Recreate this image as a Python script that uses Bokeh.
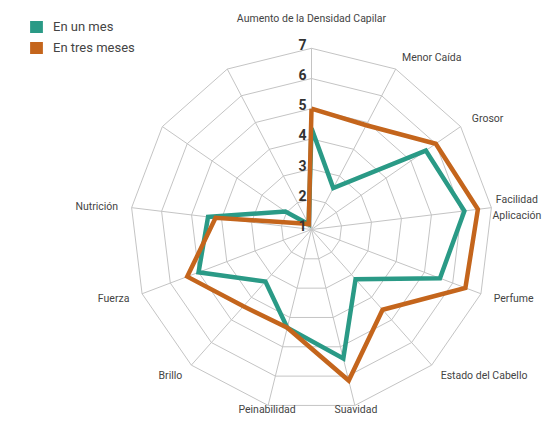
import numpy as np
from bokeh.plotting import figure
from bokeh.models import Range1d, Legend, LegendItem, ColumnDataSource
from bokeh.core.properties import value
from bokeh.embed import file_html
from bokeh.resources import INLINE

# ---- data ----
categories = ["Aumento de la Densidad Capilar", "Menor Caída", "Grosor", "Facilidad\nAplicación",
              "Perfume", "Estado del Cabello", "Suavidad", "Peinabilidad", "Brillo", "Fuerza",
              "Nutrición", "", ""]
un_mes = [4.35, 2.55, 5.6, 6.1, 5.55, 3.2, 5.4, 4.35, 3.3, 5.0, 4.45, 2.05, 1.2]
tres_meses = [5.0, 4.9, 6.0, 6.55, 6.45, 4.55, 6.15, 4.35, 4.4, 5.4, 4.2, 1.35, 1.2]
levels = [1, 2, 3, 4, 5, 6, 7]
series_names = ["En un mes", "En tres meses"]

# ---- styling ----
GREEN = "#2a9a86"
ORANGE = "#c4651c"
GRID = "#c4c4c4"
FONT = "Roboto"
W, H = 544, 416
PX = 30.2          # pixels per unit
CX, CY = 311, 229  # centre in figure pixels

n = len(categories)
theta = 2 * np.pi * np.arange(n) / n
vmin = levels[0]


def xy(vals):
    r = np.asarray(vals, dtype=float) - vmin
    x = r * np.sin(theta)
    y = r * np.cos(theta)
    return np.append(x, x[0]), np.append(y, y[0])


p = figure(width=W, height=H, output_backend="svg", toolbar_location=None,
           x_range=Range1d(-CX / PX, (W - CX) / PX),
           y_range=Range1d(-(H - CY) / PX, CY / PX),
           min_border=0, outline_line_color=None)
p.axis.visible = False
p.grid.visible = False

# rings
rmax = levels[-1] - vmin
for lv in levels[1:]:
    gx, gy = xy([lv] * n)
    p.line(gx, gy, line_color=GRID, line_width=1)
# spokes
p.multi_line([[0, rmax * np.sin(t)] for t in theta], [[0, rmax * np.cos(t)] for t in theta],
             line_color=GRID, line_width=1)

# series
gx, gy = xy(un_mes)
p.line(gx, gy, line_color=GREEN, line_width=4.5, line_join="miter")
ox, oy = xy(tres_meses)
p.line(ox, oy, line_color=ORANGE, line_width=4.5, line_join="miter")

# radial tick labels
p.text(x=[0] * len(levels), y=[lv - vmin for lv in levels], text=[str(lv) for lv in levels],
       x_offset=-9, y_offset=-4, text_align="center", text_baseline="middle",
       text_font=value(FONT), text_font_size="14px", text_font_style="bold",
       text_color="#333333")

# category labels
lx, ly, la, lt, lyo = [], [], [], [], []
for t, c in zip(theta, categories):
    deg = np.degrees(t)
    lines = c.split("\n")
    if deg < 1:
        rl, al = rmax + 1.0, "center"
    elif abs(deg - 180) < 20:
        rl, al = rmax + 0.15, "center"
    elif len(lines) > 1:
        rl, al = rmax + 0.85, "center"
    elif deg < 180:
        rl, al = rmax + 0.45, "left"
    else:
        rl, al = rmax + 0.45, "right"
    k = len(lines)
    for i, ln in enumerate(lines):
        lx.append(rl * np.sin(t))
        ly.append(rl * np.cos(t))
        la.append(al)
        lt.append(ln)
        lyo.append((i - (k - 1) / 2) * 16 + (3 if k > 1 else 0))
src = ColumnDataSource(dict(x=lx, y=ly, text=lt, align=la, yo=lyo))
p.text(x="x", y="y", text="text", text_align="align", y_offset="yo", source=src,
       text_baseline="middle", text_font=value(FONT), text_font_size="10.5px",
       text_color="#444444")

# legend
nan = [np.nan]
r1 = p.quad(left=nan, right=nan, top=nan, bottom=nan, fill_color=GREEN, line_color=None)
r2 = p.quad(left=nan, right=nan, top=nan, bottom=nan, fill_color=ORANGE, line_color=None)
legend = Legend(items=[LegendItem(label=series_names[0], renderers=[r1]),
                       LegendItem(label=series_names[1], renderers=[r2])],
                location=(28, 361), border_line_color=None, background_fill_alpha=0,
                padding=0, margin=0, spacing=6, glyph_width=16, glyph_height=15,
                label_standoff=9, label_text_font=FONT, label_text_font_size="13px",
                label_text_color="#444444")
p.add_layout(legend)

open("out.html", "w").write(file_html(p, INLINE))
